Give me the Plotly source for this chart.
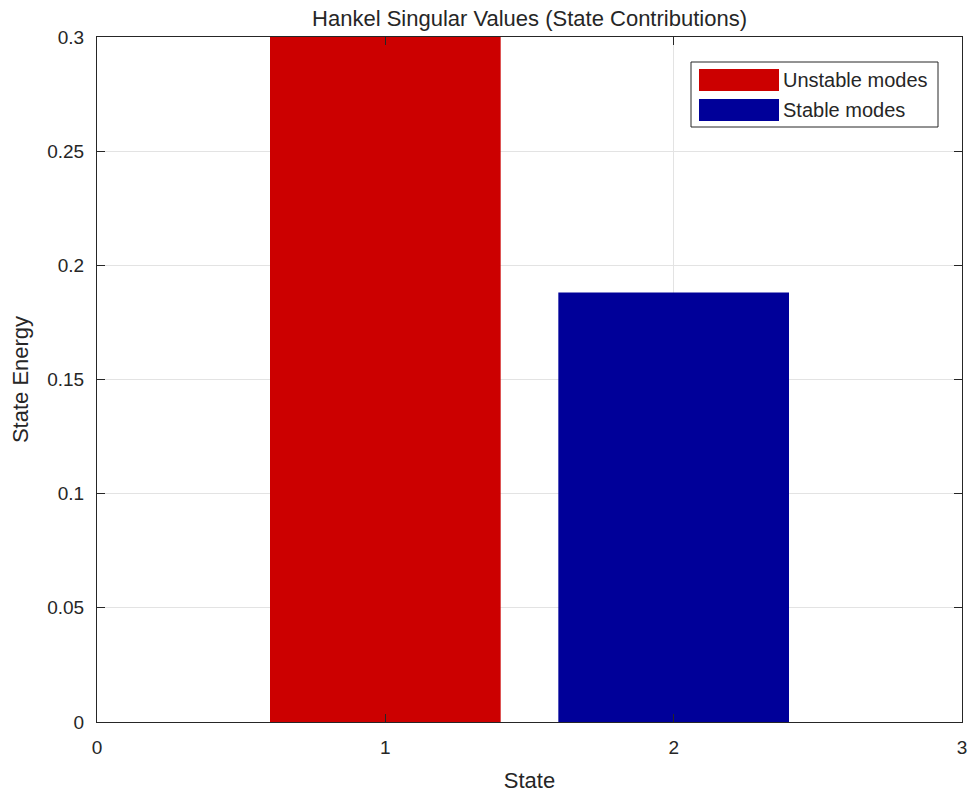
import plotly.graph_objects as go

states = [1, 2]
energies = [0.42, 0.1881]
series_names = ["Unstable modes", "Stable modes"]
series_colors = ["#CC0000", "#000099"]
x_ticks = [0, 1, 2, 3]
y_ticks = [0, 0.05, 0.1, 0.15, 0.2, 0.25, 0.3]
y_tick_labels = ["0", "0.05", "0.1", "0.15", "0.2", "0.25", "0.3"]

fig = go.Figure()
for i in range(len(states)):
    fig.add_trace(go.Bar(
        x=[states[i]], y=[energies[i]], name=series_names[i],
        marker=dict(color=series_colors[i], line=dict(width=0)),
        width=0.8, showlegend=False,
    ))

font_family = "Liberation Sans, Arial, sans-serif"
fc = "#262626"
axis_common = dict(
    showline=True, mirror="ticks", linecolor=fc, linewidth=1,
    ticks="inside", ticklen=8, tickcolor=fc, automargin=False,
    showgrid=True, gridcolor="#E3E3E3", gridwidth=1, zeroline=False,
    tickfont=dict(family=font_family, size=19, color=fc),
    ticklabelstandoff=8,
)
fig.update_xaxes(range=[0, 3], tickvals=x_ticks,
                 title=dict(text="State", font=dict(family=font_family, size=22, color=fc), standoff=16),
                 **axis_common)
fig.update_yaxes(range=[0, 0.3], tickvals=y_ticks, ticktext=y_tick_labels,
                 title=dict(text="State Energy", font=dict(family=font_family, size=22, color=fc), standoff=12),
                 **axis_common)

# custom MATLAB-style legend
W, H = 865, 685
L, T = 97, 37
def px(x):
    return (x - L) / W
def py(y):
    return (T + H - y) / H
fig.add_shape(type="rect", xref="paper", yref="paper", x0=px(691), x1=px(938), y0=py(127), y1=py(62),
              line=dict(color=fc, width=1), fillcolor="white", layer="above")
rows = [80, 110]
for i in range(len(series_names)):
    fig.add_shape(type="rect", xref="paper", yref="paper",
                  x0=px(699), x1=px(779), y0=py(rows[i] + 11), y1=py(rows[i] - 11),
                  line=dict(width=0), fillcolor=series_colors[i], layer="above")
    fig.add_annotation(xref="paper", yref="paper", x=px(781), y=py(rows[i]),
                       text=series_names[i], showarrow=False, xanchor="left", yanchor="middle",
                       font=dict(family=font_family, size=20, color=fc))

fig.update_layout(
    width=973, height=793,
    margin=dict(l=L, r=973 - L - W, t=T, b=793 - T - H, autoexpand=False),
    paper_bgcolor="white", plot_bgcolor="white",
    title=dict(text="Hankel Singular Values (State Contributions)", x=0.5, xref="paper", xanchor="center",
               y=1 - 18 / 793, yanchor="middle",
               font=dict(family=font_family, size=22, color=fc)),
    showlegend=False,
    barmode="overlay",
)
fig.write_html(
    "out.html",
    config={"displayModeBar": False, "responsive": False},
    post_script="document.body.style.margin='0';document.body.style.padding='0';document.body.style.overflow='hidden';document.documentElement.style.overflow='hidden';",
)
